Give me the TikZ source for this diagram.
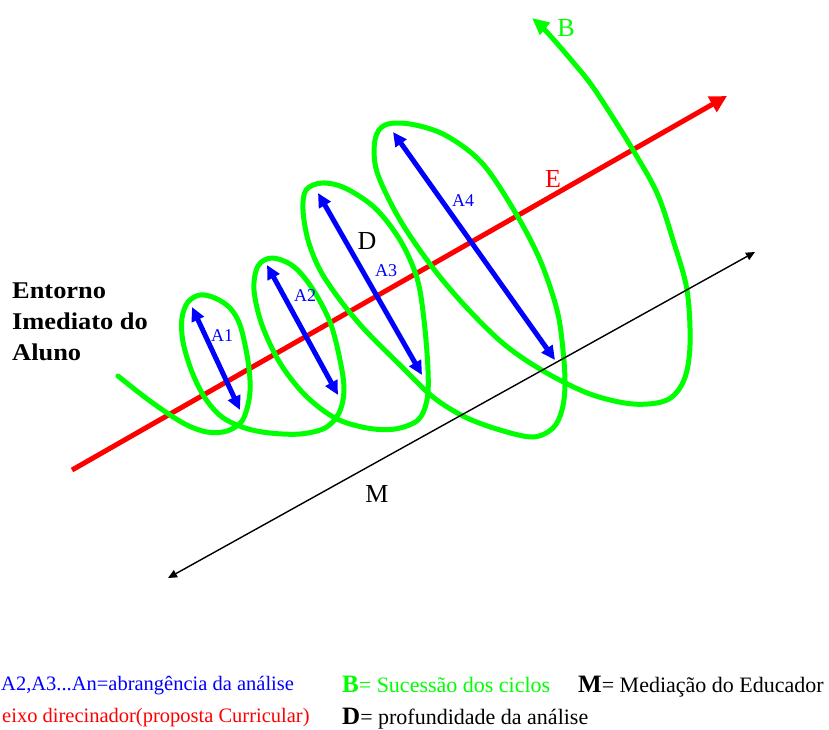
\documentclass[tikz,border=0pt]{standalone}
\usepackage{fontspec}
\setmainfont{Liberation Serif}
\newfontfamily\widebold[FakeStretch=1.1]{Liberation Serif}
\usetikzlibrary{arrows.meta}
\definecolor{gr}{RGB}{0,255,0}
\definecolor{rd}{RGB}{255,0,0}
\definecolor{bl}{RGB}{0,0,255}
\tikzset{
  axisline/.style={draw=rd, line width=5pt, -{Triangle[length=17pt,width=17pt]}},
  spiral/.style={draw=gr, line width=5pt, line cap=round, line join=round, -{Triangle[length=17pt,width=15pt]}},
  span/.style={draw=bl, line width=5pt, {Triangle[length=14pt,width=13pt]}-{Triangle[length=14pt,width=13pt]}},
  med/.style={draw=black, line width=1.4pt, {Triangle[length=9pt,width=8pt]}-{Triangle[length=9pt,width=8pt]}},
  alabel/.style={inner sep=0pt, text=bl, font=\fontsize{18}{20}\selectfont},
  biglabel/.style={inner sep=0pt, font=\fontsize{26}{28}\selectfont},
  lefttext/.style={inner sep=0pt, anchor=base west, font=\widebold\fontsize{24}{28}\selectfont\bfseries},
  legend/.style={inner sep=0pt, font=\fontsize{20.5}{24}\selectfont},
  legendr/.style={inner sep=0pt, anchor=base west, font=\fontsize{22}{24}\selectfont},
}
\begin{document}
\begin{tikzpicture}[x=1pt,y=-1pt]
\clip (0,0) rectangle (829,729);
\fill[white] (0,0) rectangle (829,729);

% axis E
\coordinate (E0) at (72,470);
\coordinate (E1) at (727,96);
\draw[axisline] (E0) -- (E1);

% spiral B
\draw[spiral] plot[smooth, tension=0.55] coordinates {
 (118,376) (150,401) (183,423) (207,432) (227,431) (242,421) (249,400) (250,380)
 (247,355) (240,325) (230,308) (215,298) (200,295) (188,302) (182,318) (183,342)
 (192,372) (205,398) (222,417) (245,428) (270,433) (300,434) (325,428) (339,413)
 (344,390) (340,360) (330,322) (312,288) (293,266) (272,258) (258,266) (254,290)
 (262,325) (280,363) (305,395) (335,418) (367,428) (395,429) (418,420) (427,400)
 (428,370) (424,320) (417,278) (400,240) (375,208) (345,188) (322,183) (306,190)
 (303,210) (308,240) (320,270) (340,300) (365,330) (400,365) (433,397) (465,417)
 (500,430) (533,437) (553,428) (562,410) (565,385) (563,350) (557,310) (540,260)
 (515,212) (482,163) (445,135) (410,124) (385,125) (375,140) (377,172) (400,220)
 (433,268) (467,308) (505,345) (545,372) (590,394) (633,404) (667,400) (684,380)
 (690,345) (687,290) (673,240) (657,193) (633,150) (610,113) (590,83) (567,55)
 (545,30) (532,18)};

% A arrows
\coordinate (A1a) at (192,307); \coordinate (A1b) at (240,410);
\coordinate (A2a) at (267,265); \coordinate (A2b) at (338,395);
\coordinate (A3a) at (318,193); \coordinate (A3b) at (422,375);
\coordinate (A4a) at (393,132); \coordinate (A4b) at (555,360);
\draw[span] (A1a) -- (A1b);
\draw[span] (A2a) -- (A2b);
\draw[span] (A3a) -- (A3b);
\draw[span] (A4a) -- (A4b);

% M arrow
\coordinate (M0) at (168,578);
\coordinate (M1) at (755,252);
\draw[med] (M0) -- (M1);

% labels
\node[alabel] (lA1) at (222,336) {A1};
\node[alabel] (lA2) at (305,296) {A2};
\node[alabel] (lA3) at (386,271) {A3};
\node[alabel] (lA4) at (463,201) {A4};
\node[biglabel] (lD) at (367,241) {D};
\node[biglabel, text=rd] (lE) at (553,179) {E};
\node[biglabel, text=gr] (lB) at (566,28) {B};
\node[biglabel] (lM) at (377,494) {M};

\node[lefttext] (t1) at (12,298) {Entorno};
\node[lefttext] (t2) at (12,329) {Imediato do};
\node[lefttext] (t3) at (12,360) {Aluno};

% legend
\node[legend, anchor=base west, text=bl] (g1) at (1,690) {A2,A3...An=abrangência da análise};
\node[legend, anchor=base west, text=rd] (g2) at (2,722) {eixo direcinador(proposta Curricular)};
\node[legendr] (g3) at (342,692) {\textcolor{gr}{{\fontsize{25}{26}\selectfont\bfseries B}= Sucessão dos ciclos}};
\node[legendr] (g4) at (578,692) {{\fontsize{25}{26}\selectfont\bfseries M}= Mediação do Educador};
\node[legendr] (g5) at (342,724) {{\fontsize{25}{26}\selectfont\bfseries D}= profundidade da análise};
\end{tikzpicture}
\end{document}
